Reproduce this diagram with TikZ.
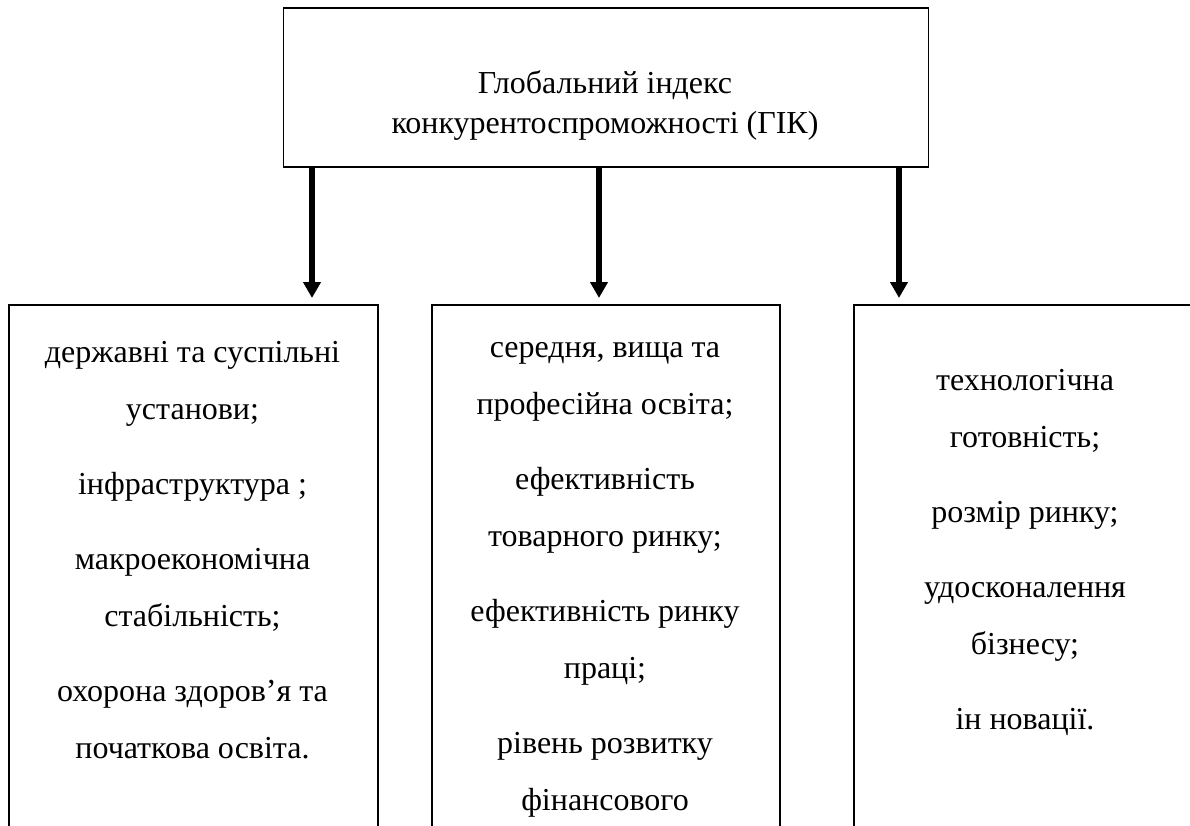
\documentclass[tikz,border=0pt]{standalone}
\usepackage{fontspec}
\setmainfont{Liberation Serif}
\usetikzlibrary{arrows.meta}
\tikzset{
  box/.style={draw=black, line width=1.5pt, fill=none, inner sep=0pt, anchor=north west},
  txt/.style={inner sep=0pt, anchor=base, font=\fontsize{32pt}{57pt}\selectfont},
  toptxt/.style={inner sep=0pt, anchor=base, font=\fontsize{32pt}{40pt}\selectfont},
  arr/.style={line width=5.5pt, -{Triangle[width=17pt,length=16pt]}}
}
\newcommand{\coltext}[1]{\parbox[t]{340pt}{\centering #1}}
\begin{document}
\begin{tikzpicture}[x=1pt,y=1pt]
\useasboundingbox (0,0) rectangle (1190,-825);
% top box
\node[box, minimum width=645pt, minimum height=159pt] (top) at (282.7,-7) {};
\node[toptxt] (toptext) at (605,-93) {\parbox[t]{600pt}{\centering Глобальний індекс\\ конкурентоспроможності (ГІК)}};
% bottom boxes
\node[box, minimum width=369pt, minimum height=620pt] (b1) at (8,-304) {};
\node[box, minimum width=348pt, minimum height=620pt] (b2) at (431,-304) {};
\node[box, minimum width=350pt, minimum height=620pt] (b3) at (853,-304) {};
% texts
\node[txt] (t1) at (192.5,-362) {\coltext{державні та суспільні\\ установи;\\[18pt] інфраструктура ;\\[18pt] макроекономічна\\ стабільність;\\[18pt] охорона здоров’я та\\ початкова освіта.}};
\node[txt] (t2) at (605,-357) {\coltext{середня, вища та\\ професійна освіта;\\[18pt] ефективність\\ товарного ринку;\\[18pt] ефективність ринку\\ праці;\\[18pt] рівень розвитку\\ фінансового}};
\node[txt] (t3) at (1025,-390) {\coltext{технологічна\\ готовність;\\[18pt] розмір ринку;\\[18pt] удосконалення\\ бізнесу;\\[18pt] ін новації.}};
% arrows
\coordinate (tip1) at (312,-298);
\coordinate (tip2) at (599,-298);
\coordinate (tip3) at (899,-298);
\draw[arr] (top.south -| tip1) -- (tip1);
\draw[arr] (top.south -| tip2) -- (tip2);
\draw[arr] (top.south -| tip3) -- (tip3);
\end{tikzpicture}
\end{document}
